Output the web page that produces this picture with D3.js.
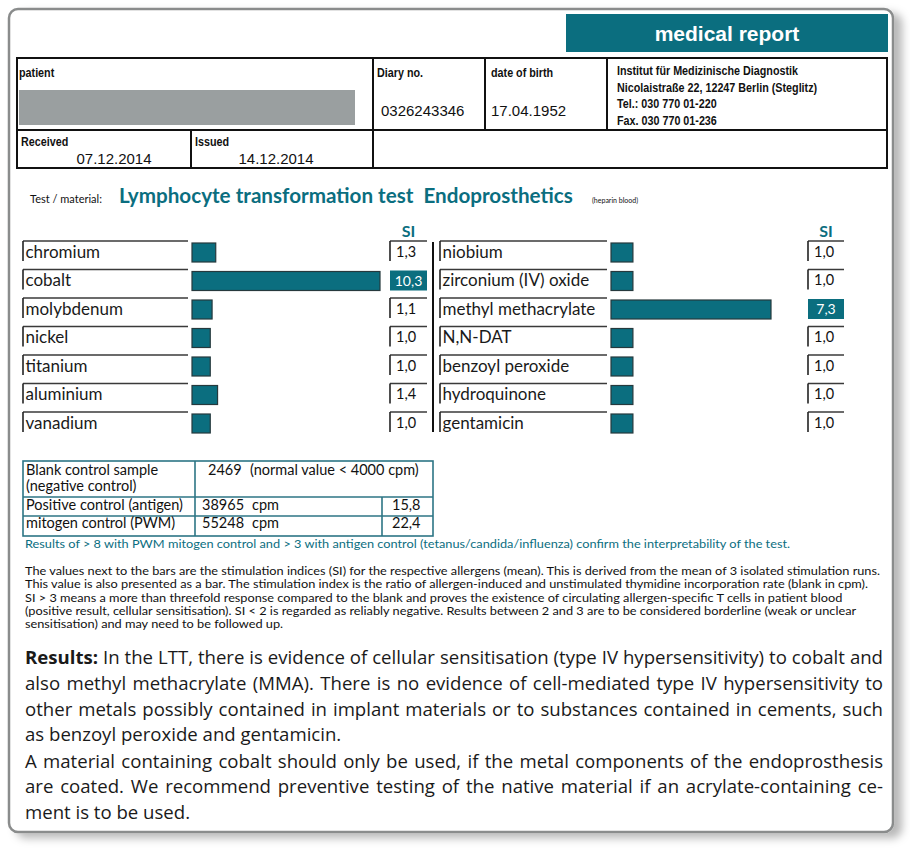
<!DOCTYPE html>
<html><head><meta charset="utf-8">
<script src="https://cdn.jsdelivr.net/npm/d3@7"></script>
<style>body{margin:0;background:#fff}svg{display:block}</style>
</head><body><svg id="c" width="910" height="848"></svg>
<script>
// ---------- data ----------
const leftLabels = ["chromium","cobalt","molybdenum","nickel","titanium","aluminium","vanadium"];
const leftSI = [1.3, 10.3, 1.1, 1.0, 1.0, 1.4, 1.0];
const rightLabels = ["niobium","zirconium (IV) oxide","methyl methacrylate","N,N-DAT","benzoyl peroxide","hydroquinone","gentamicin"];
const rightSI = [1.0, 1.0, 7.3, 1.0, 1.0, 1.0, 1.0];
const positiveThreshold = 3;

const controlLabels = [["Blank control sample","(negative control)"],["Positive control (antigen)"],["mitogen control (PWM)"]];
const controlCpm = [2469, 38965, 55248];
const controlSI = [null, 15.8, 22.4];

const headerInfo = {patient:"patient", diary:"Diary no.", diaryNo:"0326243346", dob:"date of birth", dobVal:"17.04.1952",
  received:"Received", receivedVal:"07.12.2014", issued:"Issued", issuedVal:"14.12.2014"};
const instituteLines = ["Institut für Medizinische Diagnostik","Nicolaistraße 22, 12247 Berlin (Steglitz)","Tel.: 030 770 01-220","Fax. 030 770 01-236"];

const noteLine = "Results of > 8 with PWM mitogen control and > 3 with antigen control (tetanus/candida/influenza) confirm the interpretability of the test.";
const explainLines = [
 "The values next to the bars are the stimulation indices (SI) for the respective allergens (mean). This is derived from the mean of 3 isolated stimulation runs.",
 "This value is also presented as a bar. The stimulation index is the ratio of allergen-induced and unstimulated thymidine incorporation rate (blank in cpm).",
 "SI > 3 means a more than threefold response compared to the blank and proves the existence of circulating allergen-specific T cells in patient blood",
 "(positive result, cellular sensitisation). SI < 2 is regarded as reliably negative. Results between 2 and 3 are to be considered borderline (weak or unclear",
 "sensitisation) and may need to be followed up."
];
const resultLines = [
 {t:"Results: In the LTT, there is evidence of cellular sensitisation (type IV hypersensitivity) to cobalt and", j:true},
 {t:"also methyl methacrylate (MMA). There is no evidence of cell-mediated type IV hypersensitivity to", j:true},
 {t:"other metals possibly contained in implant materials or to substances contained in cements, such", j:true},
 {t:"as benzoyl peroxide and gentamicin.", j:false},
 {t:"A material containing cobalt should only be used, if the metal components of the endoprosthesis", j:true},
 {t:"are coated. We recommend preventive testing of the native material if an acrylate-containing ce-", j:true},
 {t:"ment is to be used.", j:false}
];

// ---------- styles ----------
const TEAL = "#0b6e7f";
const GOTH = "Lato, 'DejaVu Sans', sans-serif";
const NARROW = "'Liberation Sans Narrow', 'Arial Narrow', 'Liberation Sans', sans-serif";
const ARIAL = "'Liberation Sans', Arial, sans-serif";
const FRUT = "'Open Sans', 'Noto Sans', sans-serif";

const svg = d3.select("#c");
function text(g, x, y, s, o = {}) {
  return g.append("text").attr("x", x).attr("y", y).text(s)
    .attr("font-family", o.ff || ARIAL).attr("font-size", o.fs || 12)
    .attr("font-weight", o.fw || "normal").attr("fill", o.fill || "#111")
    .attr("text-anchor", o.anchor || "start");
}
function squeeze(el, k) {
  const w = el.node().getComputedTextLength();
  el.attr("textLength", w * k).attr("lengthAdjust", "spacingAndGlyphs");
  return el;
}
function line(g, x1, y1, x2, y2, c = "#111", w = 2) {
  return g.append("line").attr("x1", x1).attr("y1", y1).attr("x2", x2).attr("y2", y2)
    .attr("stroke", c).attr("stroke-width", w);
}
const fmt = v => d3.format(".1f")(v).replace(".", ",");

// ---------- frame ----------
const defs = svg.append("defs");
const f = defs.append("filter").attr("id", "sh").attr("x", "-5%").attr("y", "-5%").attr("width", "115%").attr("height", "115%");
f.append("feDropShadow").attr("dx", 8).attr("dy", 5).attr("stdDeviation", 4).attr("flood-color", "#000").attr("flood-opacity", 0.28);
svg.append("rect").attr("x", 9).attr("y", 9).attr("width", 884).attr("height", 823).attr("rx", 9)
  .attr("fill", "#fff").attr("stroke", "#8a8c8c").attr("stroke-width", 2.5).attr("filter", "url(#sh)");

// ---------- title box ----------
svg.append("rect").attr("x", 566).attr("y", 14).attr("width", 322).attr("height", 38).attr("fill", TEAL);
text(svg, 727, 41, "medical report", {fs: 21, fw: "bold", fill: "#fff", anchor: "middle"});

// ---------- header table ----------
const H = svg.append("g");
H.append("rect").attr("x", 17).attr("y", 58).attr("width", 870).attr("height", 110).attr("fill", "none").attr("stroke", "#111").attr("stroke-width", 2);
line(H, 17, 130, 887, 130);
line(H, 373, 58, 373, 168);
line(H, 485, 58, 485, 130);
line(H, 607, 58, 607, 130);
line(H, 191, 130, 191, 168);
H.append("rect").attr("x", 19).attr("y", 90).attr("width", 336).attr("height", 35).attr("fill", "#9a9fa0");
const lab = {ff: NARROW, fs: 12.5, fw: "bold"};
const NK = 0.86;
squeeze(text(H, 19, 77, headerInfo.patient, lab), NK);
squeeze(text(H, 377, 77, headerInfo.diary, lab), NK);
squeeze(text(H, 491, 77, headerInfo.dob, lab), NK);
text(H, 381, 116, headerInfo.diaryNo, {fs: 15});
text(H, 491, 116, headerInfo.dobVal, {fs: 15});
instituteLines.forEach((s, i) => squeeze(text(H, 617, 75 + i * 16.7, s, {ff: NARROW, fs: 12.5, fw: "bold"}), NK));
squeeze(text(H, 21, 146, headerInfo.received, lab), NK);
squeeze(text(H, 195, 146, headerInfo.issued, lab), NK);
text(H, 114, 164, headerInfo.receivedVal, {fs: 15, anchor: "middle"});
text(H, 276, 164, headerInfo.issuedVal, {fs: 15, anchor: "middle"});

// ---------- test title ----------
text(svg, 30, 203, "Test / material:", {ff: GOTH, fs: 11});
const title = text(svg, 119, 203, "Lymphocyte transformation test  Endoprosthetics", {ff: GOTH, fs: 19, fw: "bold", fill: TEAL})
  .style("white-space", "pre");
{
  const w = title.node().getComputedTextLength();
  title.attr("font-size", 19 * 454 / w);
}
text(svg, 592, 203, "(heparin blood)", {ff: GOTH, fs: 7});

// ---------- bar panels ----------
const y = d3.scaleBand().domain(d3.range(leftLabels.length)).range([241, 241 + 7 * 28.5]);

function panel(labels, values, L) {
  const g = svg.append("g");
  const x = d3.scaleLinear().domain([0, d3.max(values)]).range([0, L.barMax]);
  text(g, (L.si0 + L.si1) / 2, 237, "SI", {ff: GOTH, fs: 16, fw: "bold", fill: TEAL, anchor: "middle"});
  labels.forEach((lb, i) => {
    const y0 = y(i);
    line(g, L.lab0, y0, L.lab1, y0, "#3a3a3a", 1.6);
    line(g, L.lab0, y0, L.lab0, y0 + 20, "#222", 1.6);
    text(g, L.lab0 + 2.5, y0 + 16.5, lb, {ff: GOTH, fs: 17, fill: "#1a1a1a"});
    g.append("rect").attr("x", L.bar0).attr("y", y0 + 2).attr("width", x(values[i])).attr("height", 19)
      .attr("fill", TEAL).attr("stroke", "#26393d").attr("stroke-width", 1.2);
    const v = values[i];
    if (v > positiveThreshold) {
      g.append("rect").attr("x", L.si0).attr("y", y0 + 1).attr("width", L.si1 - L.si0).attr("height", 20).attr("fill", TEAL);
      text(g, (L.si0 + L.si1) / 2, y0 + 16, fmt(v), {ff: GOTH, fs: 14, fill: "#fff", anchor: "middle"});
    } else {
      line(g, L.si0, y0, L.si1, y0, "#3a3a3a", 1.6);
      line(g, L.si0, y0, L.si0, y0 + 20, "#222", 1.6);
      text(g, L.si0 + 6, y0 + 15.5, fmt(v), {ff: GOTH, fs: 14.5, fill: "#111"});
    }
  });
}
panel(leftLabels, leftSI, {lab0: 23, lab1: 188, bar0: 192, barMax: 188, si0: 390, si1: 427});
panel(rightLabels, rightSI, {lab0: 440, lab1: 607, bar0: 611, barMax: 160, si0: 808, si1: 844});
line(svg, 433, 242, 433, 432, "#111", 2);

// ---------- control table ----------
const C = svg.append("g");
const TB = "#2c7585";
C.append("rect").attr("x", 23).attr("y", 461).attr("width", 410).attr("height", 75).attr("fill", "none").attr("stroke", TB).attr("stroke-width", 1.6);
line(C, 23, 497, 433, 497, TB, 1.6);
line(C, 23, 516, 433, 516, TB, 1.6);
line(C, 195, 461, 195, 536, TB, 1.6);
line(C, 382, 497, 382, 536, TB, 1.6);
const cf = {ff: GOTH, fs: 14.5, fill: "#111"};
text(C, 26, 475, controlLabels[0][0], cf);
text(C, 26, 491, controlLabels[0][1], cf);
text(C, 208, 475, String(controlCpm[0]), cf);
text(C, 250, 475, "(normal value < 4000 cpm)", cf);
[1, 2].forEach((r, k) => {
  const by = k === 0 ? 510 : 528;
  text(C, 26, by, controlLabels[r][0], cf);
  text(C, 202, by, String(controlCpm[r]), cf);
  text(C, 252, by, "cpm", cf);
  text(C, 392, by, fmt(controlSI[r]), cf);
});

// ---------- notes ----------
const note = text(svg, 25, 548, noteLine, {ff: GOTH, fs: 11, fill: TEAL});
squeeze(note, 765 / note.node().getComputedTextLength());

const ex = explainLines.map((s, i) => text(svg, 25, 575 + i * 13.3, s, {ff: GOTH, fs: 11, fill: "#111"}));
const exK = 855 / ex[0].node().getComputedTextLength();
ex.forEach(e => squeeze(e, exK));

// ---------- results paragraph (justified) ----------
const RB = [664, 690, 716, 741, 768, 793, 819];
const R = svg.append("g").attr("font-family", FRUT).attr("font-size", 18.6).attr("fill", "#1a1a1a");
resultLines.forEach((ln, i) => {
  const words = ln.t.split(" ");
  const nodes = words.map((w, k) => {
    const t = R.append("text").attr("y", RB[i]).text(w);
    if (i === 0 && k === 0) t.attr("font-weight", "bold");
    return t;
  });
  const widths = nodes.map(n => n.node().getComputedTextLength());
  const sum = d3.sum(widths);
  const space = 4.8;
  const gap = ln.j ? Math.max(2.5, (883 - 25 - sum) / (words.length - 1)) : space;
  let cx = 25;
  nodes.forEach((n, k) => { n.attr("x", cx); cx += widths[k] + gap; });
});
</script>
</body></html>
